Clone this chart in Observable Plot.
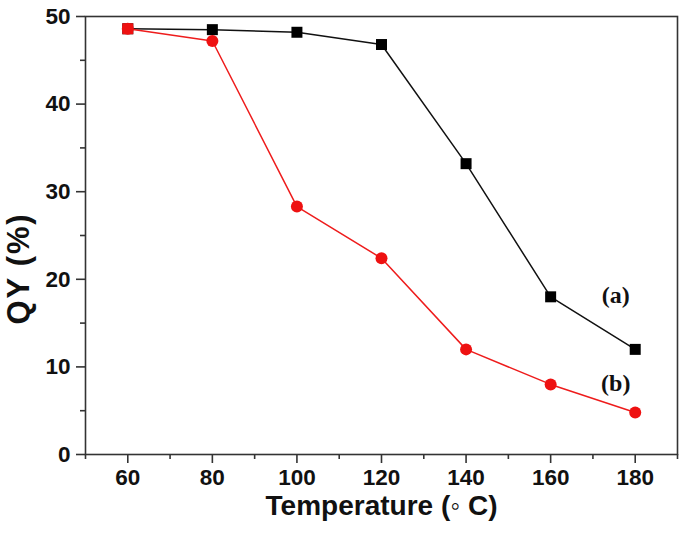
<!DOCTYPE html>
<html>
<head>
<meta charset="utf-8">
<script src="https://cdn.jsdelivr.net/npm/d3@7"></script>
<script src="https://cdn.jsdelivr.net/npm/@observablehq/plot@0.6"></script>
<style>
  html, body { margin: 0; padding: 0; background: #fff; }
  #chart svg { font-family: Arial, "Liberation Sans", sans-serif; }
</style>
</head>
<body>
<div id="chart"></div>
<script>
const temperatures = [60, 80, 100, 120, 140, 160, 180];
const qyA = [48.6, 48.5, 48.2, 46.8, 33.2, 18.0, 12.0];
const qyB = [48.6, 47.2, 28.3, 22.4, 12.0, 8.0, 4.8];
const xMajorTicks = [60, 80, 100, 120, 140, 160, 180];
const xMinorTicks = [50, 70, 90, 110, 130, 150, 170, 190];
const yMajorTicks = [0, 10, 20, 30, 40, 50];
const yMinorTicks = [5, 15, 25, 35, 45];
const seriesLabels = ["(a)", "(b)"];
const labelX = [175.4, 175.4];
const labelY = [18.2, 8.1];

const dataA = temperatures.map((t, i) => ({t, qy: qyA[i]}));
const dataB = temperatures.map((t, i) => ({t, qy: qyB[i]}));
const labels = seriesLabels.map((s, i) => ({s, x: labelX[i], y: labelY[i]}));

const chart = Plot.plot({
  width: 685,
  height: 535,
  marginLeft: 85,
  marginRight: 8,
  marginTop: 16,
  marginBottom: 81,
  x: {domain: [50, 190]},
  y: {domain: [0, 50]},
  style: {fontFamily: "Arial, 'Liberation Sans', sans-serif", color: "#111", background: "#fff"},
  marks: [
    Plot.frame({stroke: "#333", strokeWidth: 1.6}),
    Plot.axisX({ticks: xMajorTicks, tickSize: 9, tickPadding: 6, stroke: "#333", strokeWidth: 1.6,
      fontSize: 22.5, fontWeight: "bold", label: null}),
    Plot.axisX({ticks: xMinorTicks, tickSize: 5, text: null, stroke: "#333", strokeWidth: 1.6, label: null}),
    Plot.axisY({ticks: yMajorTicks, tickSize: 9, tickPadding: 6, stroke: "#333", strokeWidth: 1.6,
      fontSize: 22.5, fontWeight: "bold", label: null}),
    Plot.axisY({ticks: yMinorTicks, tickSize: 5, text: null, stroke: "#333", strokeWidth: 1.6, label: null}),
    Plot.text(["Temperature (\u25E6 C)"], {frameAnchor: "bottom", textAnchor: "middle", dy: 60, fontSize: 28, fontWeight: "bold", fill: "#111"}),
    Plot.text(["QY (%)"], {frameAnchor: "left", textAnchor: "middle", dx: -66, dy: 33, rotate: -90, fontSize: 31, fontWeight: "bold", fill: "#111"}),
    Plot.line(dataA, {x: "t", y: "qy", stroke: "#111", strokeWidth: 1.5}),
    Plot.dot(dataA, {x: "t", y: "qy", symbol: "square", r: 6.2, fill: "#000", stroke: "none"}),
    Plot.line(dataB, {x: "t", y: "qy", stroke: "#ee1c1c", strokeWidth: 1.5}),
    Plot.dot(dataB, {x: "t", y: "qy", symbol: "circle", r: 6, fill: "#ee1111", stroke: "none"}),
    Plot.dot(dataB.slice(0, 1), {x: "t", y: "qy", symbol: "square", r: 6.2, fill: "#ee1111", stroke: "none"}),
    Plot.text(labels, {x: "x", y: "y", text: "s", fontFamily: "'Liberation Serif', 'Times New Roman', serif",
      fontWeight: "bold", fontSize: 24, fill: "#111"})
  ]
});
d3.select(chart).selectAll("text").filter(function() { return this.textContent === "QY (%)"; })
  .style("letter-spacing", "1.8px");
document.getElementById("chart").appendChild(chart);
</script>
</body>
</html>
